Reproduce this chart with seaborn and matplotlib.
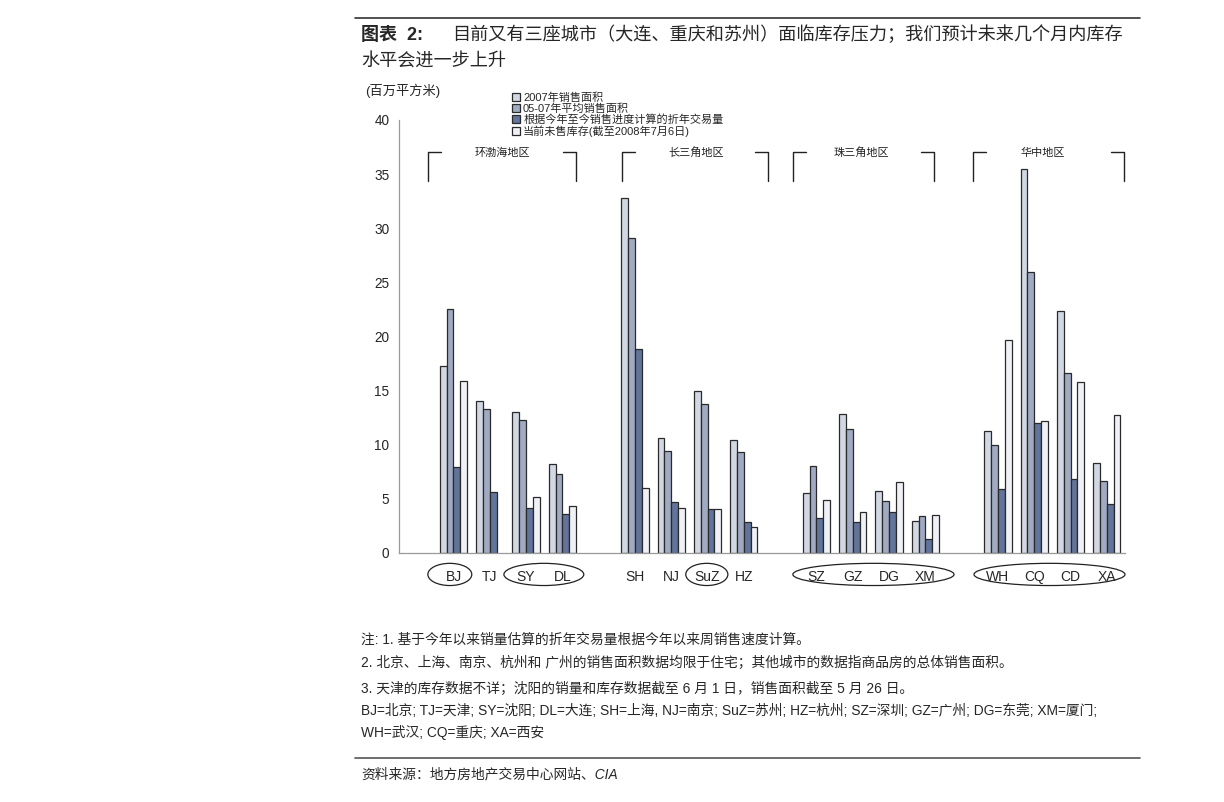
import numpy as np
import pandas as pd
import matplotlib
matplotlib.use("Agg")
import matplotlib.pyplot as plt
from matplotlib.patches import Ellipse
from matplotlib.lines import Line2D
import seaborn as sns

# ---------------- data ----------------
slots = ["_g0", "BJ", "TJ", "SY", "DL", "_g1", "SH", "NJ", "SuZ", "HZ",
         "_g2", "SZ", "GZ", "DG", "XM", "_g3", "WH", "CQ", "CD", "XA"]
cities = ["BJ", "TJ", "SY", "DL", "SH", "NJ", "SuZ", "HZ",
          "SZ", "GZ", "DG", "XM", "WH", "CQ", "CD", "XA"]
series_names = ["2007年销售面积", "05-07年平均销售面积",
                "根据今年至今销售进度计算的折年交易量", "当前未售库存(截至2008年7月6日)"]
sales_2007 = [17.3, 14.0, 13.0, 8.25, 32.8, 10.6, 14.95, 10.4,
              5.5, 12.8, 5.7, 3.0, 11.3, 35.5, 22.4, 8.3]
sales_avg = [22.5, 13.3, 12.3, 7.3, 29.1, 9.45, 13.8, 9.35,
             8.0, 11.45, 4.8, 3.45, 10.0, 26.0, 16.6, 6.65]
annualized = [7.9, 5.6, 4.2, 3.6, 18.8, 4.75, 4.05, 2.83,
              3.2, 2.9, 3.8, 1.3, 5.95, 12.0, 6.8, 4.5]
inventory = [15.9, None, 5.2, 4.35, 6.0, 4.15, 4.05, 2.37,
             4.9, 3.75, 6.6, 3.55, 19.7, 12.2, 15.8, 12.75]
regions = ["环渤海地区", "长三角地区", "珠三角地区", "华中地区"]
yticks = [0, 5, 10, 15, 20, 25, 30, 35, 40]

colors = ["#cfd7e6", "#9aa8c9", "#5870a6", "#eef1f7"]

rows = []
for s, vals in zip(series_names, [sales_2007, sales_avg, annualized, inventory]):
    for c, v in zip(cities, vals):
        if v is not None:
            rows.append({"city": c, "series": s, "value": v})
df = pd.DataFrame(rows)

# ---------------- figure ----------------
sns.set_style("white")
plt.rcParams["font.family"] = ["Liberation Sans", "Noto Sans CJK SC", "DejaVu Sans"]

W, H = 1224, 802
fig = plt.figure(figsize=(W / 100, H / 100), dpi=100)
def fx(px): return px / W
def fy(py): return 1 - py / H

ax = fig.add_axes([fx(399), fy(553), (1125 - 399) / W, (553 - 120) / H])

sns.barplot(data=df, x="city", y="value", hue="series", order=slots,
            hue_order=series_names, palette=colors, width=0.75, gap=0,
            edgecolor="#2a2a2a", linewidth=0.9, errorbar=None, ax=ax)

handles, labels = ax.get_legend_handles_labels()
if ax.get_legend() is not None:
    ax.get_legend().remove()

ax.set_xlim(-0.5, len(slots) - 0.5)
ax.set_ylim(0, 40)
ax.set_xlabel("")
ax.set_ylabel("")
ax.set_yticks(yticks)
ax.set_yticklabels([str(t) for t in yticks], fontsize=9.8)
bounds = np.arange(-0.5, len(slots), 1.0)
ax.set_xticks(bounds)
ax.set_xticklabels([""] * len(bounds))
ax.set_xticks(np.arange(len(slots)), minor=True)
ax.set_xticklabels(["" if s.startswith("_") else s for s in slots], minor=True, fontsize=10)
ax.tick_params(axis="x", which="major", direction="out", length=4, color="#999999")
ax.tick_params(axis="x", which="minor", length=0, pad=12)
ax.tick_params(axis="y", direction="out", length=4, color="#999999", pad=3)
for sp in ["top", "right"]:
    ax.spines[sp].set_visible(False)
for sp in ["left", "bottom"]:
    ax.spines[sp].set_color("#999999")
    ax.spines[sp].set_linewidth(0.9)
ax.grid(False)

# region brackets
brackets = [(0.3, 4.38, 2.34), (5.64, 9.67, 7.7), (10.35, 14.24, 12.25), (15.31, 19.47, 17.24)]
ytop, ybot = 37.0, 34.4
for (l, r, c), name in zip(brackets, regions):
    ax.plot([l, l, l + 0.35], [ybot, ytop, ytop], color="#222222", lw=1.0, clip_on=False)
    ax.plot([r - 0.35, r, r], [ytop, ytop, ybot], color="#222222", lw=1.0, clip_on=False)
    ax.text(c, ytop, name, ha="center", va="center", fontsize=8,
            family=["Noto Sans CJK SC"], color="#222222")

# ellipses around tick labels
ell = [(0.9, 1.21), (3.49, 2.2), (7.98, 1.16), (12.57, 4.44), (17.42, 4.16)]
for cx, w in ell:
    ax.add_patch(Ellipse((cx, -1.98), w, 2.05, fill=False, edgecolor="#222222",
                         lw=0.9, clip_on=False))

# legend
fig.legend(handles, labels, loc="upper left", bbox_to_anchor=(fx(512), fy(92)),
           frameon=False, handlelength=0.75, handleheight=0.75,
           handletextpad=0.25, labelspacing=0.05, borderpad=0, borderaxespad=0,
           prop={"family": ["Liberation Sans", "Noto Sans CJK SC"], "size": 8})

# unit label
fig.text(fx(365), fy(91), "(百万平方米)", fontsize=9.5, va="center", ha="left",
         family=["Liberation Sans", "Noto Sans CJK SC"])

# title
fig.add_artist(Line2D([fx(355), fx(1140)], [fy(18), fy(18)], color="#333333", lw=1.2))
fig.text(fx(361), fy(35), "图表  2:", fontsize=13, weight="bold", va="center", ha="left",
         family=["Liberation Sans", "Noto Sans CJK SC"])
fig.text(fx(452), fy(35), "目前又有三座城市（大连、重庆和苏州）面临库存压力；我们预计未来几个月内库存",
         fontsize=13.1, weight="medium", va="center", ha="left", family=["Noto Sans CJK SC"])
fig.text(fx(361), fy(62), "水平会进一步上升", fontsize=13.1, weight="medium", va="center",
         ha="left", family=["Noto Sans CJK SC"])

# notes
notes = [
    (640, "注: 1. 基于今年以来销量估算的折年交易量根据今年以来周销售速度计算。"),
    (663, "2. 北京、上海、南京、杭州和 广州的销售面积数据均限于住宅；其他城市的数据指商品房的总体销售面积。"),
    (689, "3. 天津的库存数据不详；沈阳的销量和库存数据截至 6 月 1 日，销售面积截至 5 月 26 日。"),
    (711, "BJ=北京; TJ=天津; SY=沈阳; DL=大连; SH=上海, NJ=南京; SuZ=苏州; HZ=杭州; SZ=深圳; GZ=广州; DG=东莞; XM=厦门;"),
    (732, "WH=武汉; CQ=重庆; XA=西安"),
]
for py, t in notes:
    fig.text(fx(361), fy(py), t, fontsize=9.9, va="center", ha="left",
             family=["Liberation Sans", "Noto Sans CJK SC"])

fig.add_artist(Line2D([fx(355), fx(1140)], [fy(758), fy(758)], color="#555555", lw=1.2))
fig.text(fx(361), fy(774), "资料来源：地方房地产交易中心网站、CIA", fontsize=9.9, style="italic",
         va="center", ha="left", family=["Liberation Sans", "Noto Sans CJK SC"])

fig.savefig("out.png", dpi=100, facecolor="white")
